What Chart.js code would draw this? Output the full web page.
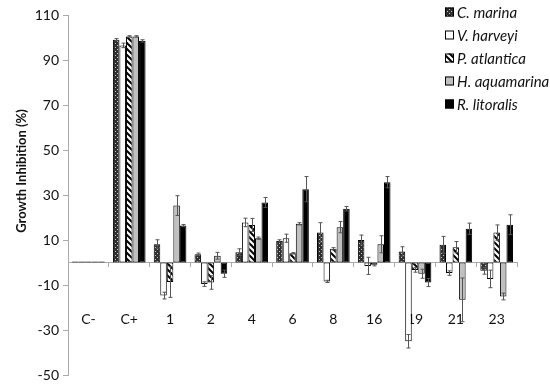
<!DOCTYPE html>
<html>
<head>
<meta charset="utf-8">
<script src="https://cdn.jsdelivr.net/npm/chart.js@4"></script>
<style>
  html, body { margin: 0; padding: 0; background: #fff; }
  #wrap { width: 550px; height: 388px; }
</style>
</head>
<body>
<div id="wrap"><canvas id="growthChart" width="550" height="388"></canvas></div>
<script>
// compounds on the x axis
const compounds = ['C-', 'C+', '1', '2', '4', '6', '8', '16', '19', '21', '23'];

// growth inhibition (%) per strain
const cMarina     = [0.5, 99,   8.1,  3.7, 4.6, 9.6,  13.3, 10,   4.9, 7.9,  -3.7];
const vHarveyi    = [0.5, 96.5, -14.7, -9.6, 17.8, 10.8, -8.4, -1.5, -35, -4.7, -7.3];
const pAtlantica  = [0.5, 100.5, -8.7, -8.9, 16.7, 4.1, 6.1,  -1,  -3.3, 6.8,  13.3];
const hAquamarina = [0.5, 100.5, 25.3, 3,   10.8, 17.2, 15.7, 8.1, -5,   -16.6, -15.1];
const rLitoralis  = [0.5, 98.5, 16.4, -5,   26.7, 32.6, 23.9, 35.7, -8.9, 15,   16.8];

// standard deviations
const cMarinaErr     = [0, 0.5, 2,   0.5, 1.5, 0.5, 4.4, 2.2, 2.1, 3.7, 1.5];
const vHarveyiErr    = [0, 1,   1.5, 1,   1.9, 1.8, 0.5, 3.8, 3,   1,   3.9];
const pAtlanticaErr  = [0, 0.3, 6.8, 3,   2.9, 0.3, 0.5, 0.5, 1,   2.5, 3.4];
const hAquamarinaErr = [0, 0.3, 4.4, 1.5, 0.5, 0.5, 2.5, 3.8, 2,   9.7, 1.5];
const rLitoralisErr  = [0, 0.5, 0.5, 1.6, 2.2, 5.6, 1,   2.5, 1.8, 2.5, 4.4];

const yTicks = [-50, -30, -10, 10, 30, 50, 70, 90, 110];

const FONT = 'Lato, "Open Sans", "Liberation Sans", sans-serif';

// --- fill patterns ---
function makePattern(size, drawFn) {
  const c = document.createElement('canvas');
  c.width = size; c.height = size;
  const g = c.getContext('2d');
  drawFn(g, size);
  return g.createPattern(c, 'repeat');
}

const dotPattern = makePattern(4, (g) => {
  g.fillStyle = '#2e2e2e';
  g.fillRect(0, 0, 4, 4);
  g.fillStyle = '#c8c8c8';
  g.fillRect(1, 1, 1, 1);
  g.fillRect(3, 3, 1, 1);
});

const stripePattern = makePattern(6, (g) => {
  g.fillStyle = '#fff';
  g.fillRect(0, 0, 6, 6);
  g.strokeStyle = '#000';
  g.lineWidth = 2;
  g.beginPath();
  g.moveTo(-1, -1); g.lineTo(7, 7);
  g.moveTo(-4, 2); g.lineTo(4, 10);
  g.moveTo(2, -4); g.lineTo(10, 4);
  g.stroke();
});

function ds(label, data, err, fill) {
  return {
    label: label,
    data: data,
    errors: err,
    backgroundColor: fill,
    borderColor: '#000',
    borderWidth: 1,
    borderSkipped: false,
    categoryPercentage: 0.8,
    barPercentage: 1.0
  };
}

// error bars drawn through the y scale
const errorBars = {
  id: 'errorBars',
  afterDatasetsDraw(chart) {
    const ctx = chart.ctx;
    const y = chart.scales.y;
    ctx.save();
    ctx.strokeStyle = '#555';
    ctx.lineWidth = 1;
    chart.data.datasets.forEach((d, i) => {
      const meta = chart.getDatasetMeta(i);
      meta.data.forEach((bar, j) => {
        const e = d.errors[j];
        if (!e) return;
        const v = d.data[j];
        const top = y.getPixelForValue(v + e);
        const bot = y.getPixelForValue(v - e);
        const x = Math.round(bar.x) + 0.5;
        ctx.beginPath();
        ctx.moveTo(x, top); ctx.lineTo(x, bot);
        ctx.moveTo(x - 2, top); ctx.lineTo(x + 2, top);
        ctx.moveTo(x - 2, bot); ctx.lineTo(x + 2, bot);
        ctx.stroke();
      });
    });
    ctx.restore();
  }
};

// legend overlaid on the upper right of the plot, plus the y title
const overlayLegend = {
  id: 'overlayLegend',
  afterDraw(chart) {
    const ctx = chart.ctx;
    ctx.save();
    ctx.font = 'italic 15px ' + FONT;
    ctx.textBaseline = 'middle';
    chart.data.datasets.forEach((d, i) => {
      const cy = 12 + i * 23;
      ctx.fillStyle = d.backgroundColor;
      ctx.fillRect(445, cy - 4.5, 9, 9);
      ctx.strokeStyle = '#000';
      ctx.lineWidth = 1;
      ctx.strokeRect(445.5, cy - 4, 8, 8);
      ctx.fillStyle = '#111';
      ctx.fillText(d.label, 457, cy + 1);
    });
    // y axis title
    ctx.translate(22, 171);
    ctx.rotate(-Math.PI / 2);
    ctx.textAlign = 'center';
    ctx.font = 'bold 13px ' + FONT;
    ctx.fillText('Growth Inhibition (%)', 0, 0);
    ctx.restore();
  }
};

const ctx = document.getElementById('growthChart').getContext('2d');
new Chart(ctx, {
  type: 'bar',
  data: {
    labels: compounds,
    datasets: [
      ds('C. marina', cMarina, cMarinaErr, dotPattern),
      ds('V. harveyi', vHarveyi, vHarveyiErr, '#ffffff'),
      ds('P. atlantica', pAtlantica, pAtlanticaErr, stripePattern),
      ds('H. aquamarina', hAquamarina, hAquamarinaErr, '#c0c0c0'),
      ds('R. litoralis', rLitoralis, rLitoralisErr, '#000000')
    ]
  },
  options: {
    responsive: false,
    animation: false,
    layout: { padding: { top: 15, bottom: 13, right: 5, left: 0 } },
    plugins: {
      legend: { display: false },
      tooltip: { enabled: false }
    },
    scales: {
      x: {
        position: { y: 0 },
        grid: {
          display: true,
          drawOnChartArea: false,
          offset: true,
          tickLength: 4,
          color: '#aaa'
        },
        border: { display: true, color: '#aaa' },
        ticks: {
          padding: 45,
          color: '#111',
          font: { family: FONT, size: 14 }
        },
        title: {
          display: true,
          text: 'Compounds',
          color: '#111',
          font: { family: FONT, size: 14, weight: 'bold' },
          padding: { top: 33 }
        }
      },
      y: {
        min: -50,
        max: 110,
        afterBuildTicks(scale) {
          scale.ticks = yTicks.map(v => ({ value: v }));
        },
        afterFit(scale) { scale.width = 68; },
        grid: {
          display: true,
          drawOnChartArea: false,
          tickLength: 5,
          color: '#aaa'
        },
        border: { display: true, color: '#aaa' },
        ticks: {
          padding: 4,
          color: '#111',
          font: { family: FONT, size: 14 }
        }
      }
    }
  },
  plugins: [errorBars, overlayLegend]
});
</script>
</body>
</html>
